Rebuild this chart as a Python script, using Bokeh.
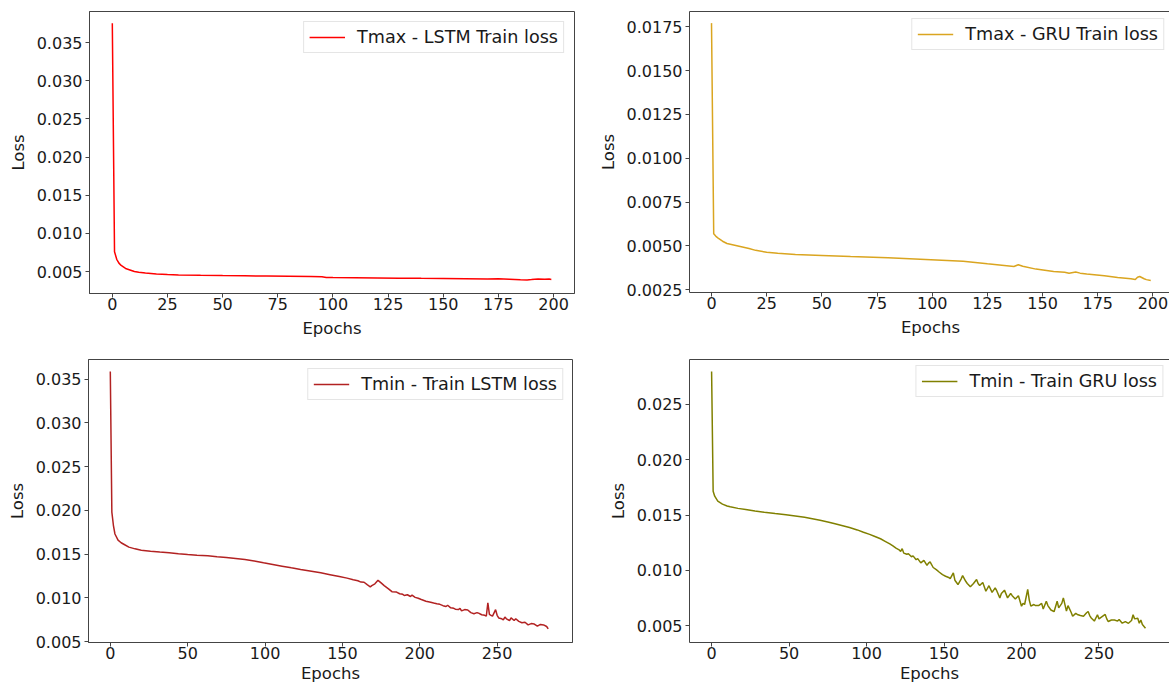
from bokeh.plotting import figure
from bokeh.models import (FixedTicker, PrintfTickFormatter, LinearAxis, Legend,
                          LegendItem, Range1d)
from bokeh.layouts import row, column
from bokeh.embed import file_html
from bokeh.resources import INLINE

# ---------------- data ----------------
tmax_lstm_epoch = [0, 1, 2, 3, 4, 5, 6, 8, 10, 12, 15, 20, 25, 30, 40, 50, 60, 70, 80, 90,
                   95, 97, 100, 110, 120, 130, 140, 150, 160, 170, 175, 180, 185, 188, 190,
                   193, 196, 198, 199]
tmax_lstm_loss = [0.03756, 0.0076, 0.0066, 0.0061, 0.0058, 0.0056, 0.0054, 0.0052, 0.0050,
                  0.0049, 0.00480, 0.00468, 0.00460, 0.00455, 0.00450, 0.00446, 0.00443,
                  0.00440, 0.00437, 0.00434, 0.00432, 0.00422, 0.00421, 0.00419, 0.00416,
                  0.00413, 0.00410, 0.00408, 0.00405, 0.00403, 0.00404, 0.00399, 0.00393,
                  0.00390, 0.00394, 0.00402, 0.00399, 0.00401, 0.00396]

tmax_gru_epoch = [0, 1, 2, 3, 5, 7, 10, 13, 17, 20, 25, 30, 38, 50, 63, 80, 97, 114, 125,
                  137, 139, 141, 147, 155, 160, 162, 165, 167, 170, 178, 184, 190, 192, 193,
                  194, 196, 197, 199]
tmax_gru_loss = [0.01771, 0.00569, 0.00555, 0.00545, 0.00527, 0.00514, 0.00506, 0.00497,
                 0.00485, 0.00475, 0.00464, 0.00458, 0.00451, 0.00446, 0.00440, 0.00433,
                 0.00423, 0.00413, 0.00398, 0.00383, 0.00393, 0.00384, 0.00368, 0.00354,
                 0.00350, 0.00344, 0.00351, 0.00345, 0.00340, 0.00330, 0.00320, 0.00313,
                 0.00309, 0.00322, 0.00326, 0.00313, 0.00308, 0.00303]

tmin_lstm_epoch = [0, 1, 2, 3, 5, 7, 9, 12, 16, 20, 26, 32, 38, 44, 50, 56, 63, 69, 75, 81,
                   87, 93, 99, 105, 111, 117, 123, 130, 136, 142, 148, 153, 157, 160, 162,
                   164, 166, 168, 169, 171, 173, 175, 177, 180, 182, 185, 187, 189, 190, 192,
                   194, 195, 197, 199, 201, 204, 207, 209, 211, 213, 215, 217, 218, 220, 222,
                   223, 225, 226, 227, 229, 231, 233, 235, 237, 238, 240, 242, 243, 244, 245,
                   246, 247, 249, 250, 251, 253, 254, 255, 256, 258, 259, 261, 262, 264, 266,
                   268, 270, 272, 274, 276, 278, 280, 282, 283]
tmin_lstm_loss = [0.03589, 0.0198, 0.0183, 0.0173, 0.0166, 0.0163, 0.0161, 0.0158, 0.0156,
                  0.01545, 0.01533, 0.01523, 0.01515, 0.01505, 0.01496, 0.01488, 0.01480,
                  0.01470, 0.01461, 0.01450, 0.01438, 0.01422, 0.01400, 0.01381, 0.01362,
                  0.01343, 0.01325, 0.01305, 0.01286, 0.01265, 0.01244, 0.01225, 0.01206,
                  0.01195, 0.01180, 0.01178, 0.01150, 0.01125, 0.01140, 0.01160, 0.01200,
                  0.01170, 0.01140, 0.01100, 0.01070, 0.01065, 0.01046, 0.01040, 0.01026,
                  0.01035, 0.01015, 0.01030, 0.01005, 0.00995, 0.00980, 0.00961, 0.00950,
                  0.00940, 0.00931, 0.00925, 0.00910, 0.00900, 0.00915, 0.00885, 0.00880,
                  0.00870, 0.00865, 0.00880, 0.00850, 0.00865, 0.00860, 0.00830, 0.00818,
                  0.00830, 0.00825, 0.00806, 0.00800, 0.00790, 0.00943, 0.00810, 0.00800,
                  0.00790, 0.00864, 0.00800, 0.00770, 0.00760, 0.00748, 0.00780, 0.00760,
                  0.00740, 0.00770, 0.00740, 0.00760, 0.00730, 0.00714, 0.00720, 0.00690,
                  0.00705, 0.00700, 0.00675, 0.00695, 0.00690, 0.00672, 0.00645]

tmin_gru_epoch = [0, 1, 2, 4, 7, 10, 12, 17, 22, 28, 34, 41, 48, 54, 60, 65, 70, 75, 79, 84,
                  89, 94, 98, 102, 105, 109, 112, 115, 117, 119, 121, 122, 123, 124, 126, 127,
                  129, 130, 132, 133, 135, 137, 139, 140, 141, 143, 145, 147, 149, 151, 153,
                  154, 156, 157, 159, 161, 162, 164, 165, 167, 169, 171, 172, 173, 175, 177,
                  179, 181, 183, 184, 186, 187, 189, 191, 193, 194, 196, 198, 200, 201, 202,
                  204, 205, 206, 208, 209, 211, 213, 214, 216, 217, 219, 221, 223, 224, 226,
                  227, 229, 230, 232, 233, 235, 236, 238, 240, 242, 243, 244, 245, 247, 249,
                  250, 252, 254, 255, 256, 258, 260, 262, 263, 265, 267, 269, 271, 272, 273,
                  275, 276, 277, 278, 280]
tmin_gru_loss = [0.02799, 0.01715, 0.0167, 0.01625, 0.01598, 0.01582, 0.01574, 0.01560,
                 0.01550, 0.01537, 0.01525, 0.01513, 0.01502, 0.01492, 0.01480, 0.01467,
                 0.01453, 0.01437, 0.01423, 0.01405, 0.01387, 0.01365, 0.01344, 0.01325,
                 0.01308, 0.01285, 0.01262, 0.01238, 0.01220, 0.01200, 0.01185, 0.01170,
                 0.01195, 0.01155, 0.01145, 0.01150, 0.01122, 0.01130, 0.01095, 0.01105,
                 0.01067, 0.01090, 0.01045, 0.01065, 0.01076, 0.01025, 0.01005, 0.00982,
                 0.00960, 0.00946, 0.00935, 0.00925, 0.00977, 0.00910, 0.00871, 0.00920,
                 0.00952, 0.00900, 0.00880, 0.00850, 0.00880, 0.00916, 0.00880, 0.00862,
                 0.00890, 0.00810, 0.00860, 0.00800, 0.00840, 0.00815, 0.00750, 0.00790,
                 0.00820, 0.00750, 0.00790, 0.00770, 0.00740, 0.00770, 0.00675, 0.00700,
                 0.00690, 0.00826, 0.00730, 0.00675, 0.00690, 0.00680, 0.00680, 0.00700,
                 0.00650, 0.00720, 0.00680, 0.00640, 0.00625, 0.00720, 0.00660, 0.00700,
                 0.00750, 0.00630, 0.00680, 0.00620, 0.00584, 0.00610, 0.00600, 0.00590,
                 0.00584, 0.00615, 0.00627, 0.00590, 0.00568, 0.00540, 0.00597, 0.00560,
                 0.00580, 0.00600, 0.00560, 0.00536, 0.00550, 0.00550, 0.00540, 0.00555,
                 0.00521, 0.00535, 0.00520, 0.00545, 0.00597, 0.00560, 0.00565, 0.00520,
                 0.00550, 0.00510, 0.00476]

top_xticks = [0, 25, 50, 75, 100, 125, 150, 175, 200]
bottom_xticks = [0, 50, 100, 150, 200, 250]
lstm_yticks = [0.005, 0.010, 0.015, 0.020, 0.025, 0.030, 0.035]
tmax_gru_yticks = [0.0025, 0.0050, 0.0075, 0.0100, 0.0125, 0.0150, 0.0175]
tmin_gru_yticks = [0.005, 0.010, 0.015, 0.020, 0.025]

FONT = "DejaVu Sans"
INK = "#1a1a1a"
SPINE = "#444444"


def make(ep, val, color, label, xr, yr, xticks, yticks, yfmt,
         lb, fw, rb, tb, fh, bb, open_right, lmargin, xlab_standoff):
    p = figure(frame_width=fw, frame_height=fh,
               min_border_left=lb, min_border_right=rb,
               min_border_top=tb, min_border_bottom=bb,
               x_range=Range1d(*xr), y_range=Range1d(*yr),
               output_backend="svg", toolbar_location=None, tools="")
    p.grid.visible = False
    p.background_fill_color = "white"
    p.border_fill_color = "white"
    r = p.line(ep, val, line_color=color, line_width=1.5)

    p.xaxis.ticker = FixedTicker(ticks=xticks)
    p.yaxis.ticker = FixedTicker(ticks=yticks)
    p.yaxis.formatter = PrintfTickFormatter(format=yfmt)
    p.xaxis.axis_label = "Epochs"
    p.yaxis.axis_label = "Loss"
    for ax in p.axis:
        ax.major_label_text_font = FONT
        ax.major_label_text_font_size = "16px"
        ax.major_label_text_color = INK
        ax.axis_label_text_font = FONT
        ax.axis_label_text_font_size = "16.5px"
        ax.axis_label_text_font_style = "normal"
        ax.axis_label_text_color = INK
        ax.major_tick_out = 4
        ax.major_tick_in = 0
        ax.minor_tick_line_color = None
        ax.major_tick_line_color = SPINE
        ax.axis_line_color = SPINE
    p.xaxis.major_label_standoff = 0
    p.xaxis.axis_label_standoff = xlab_standoff
    p.yaxis.major_label_standoff = 3
    p.yaxis.axis_label_standoff = 6

    if open_right:
        p.outline_line_color = None
        top = LinearAxis(ticker=FixedTicker(ticks=[]), major_label_text_font_size="0px",
                         major_tick_line_color=None, minor_tick_line_color=None,
                         axis_line_color=SPINE)
        p.add_layout(top, "above")
    else:
        p.outline_line_color = SPINE
        p.outline_line_width = 1

    leg = Legend(items=[LegendItem(label=label, renderers=[r])], location="top_right")
    leg.label_text_font = FONT
    leg.label_text_font_size = "17.6px"
    leg.label_text_color = INK
    leg.glyph_width = 36
    leg.glyph_height = 18
    leg.label_height = 18
    leg.label_standoff = 12
    leg.padding = 5
    leg.margin = lmargin
    leg.border_line_color = "#cccccc"
    leg.border_line_width = 1
    leg.background_fill_color = "white"
    leg.background_fill_alpha = 1.0
    p.add_layout(leg)
    return p


p1 = make(tmax_lstm_epoch, tmax_lstm_loss, "red", "Tmax - LSTM Train loss",
          (-10.34, 209.5), (0.002116, 0.03909), top_xticks, lstm_yticks, "%.3f",
          89, 485, 21, 11, 282, 50, False, 10, 6)
p2 = make(tmax_gru_epoch, tmax_gru_loss, "goldenrod", "Tmax - GRU Train loss",
          (-9.97, 208.4), (0.002346, 0.018373), top_xticks, tmax_gru_yticks, "%.4f",
          92, 482, 0, 11, 281, 51, True, 7, 6)
p3 = make(tmin_lstm_epoch, tmin_lstm_loss, "firebrick", "Tmin - Train LSTM loss",
          (-14.09, 298.7), (0.004886, 0.037265), bottom_xticks, lstm_yticks, "%.3f",
          88, 484, 23, 16, 283, 45, False, 9, 2)
p4 = make(tmin_gru_epoch, tmin_gru_loss, "olive", "Tmin - Train GRU loss",
          (-14.26, 295.5), (0.003462, 0.029072), bottom_xticks, tmin_gru_yticks, "%.3f",
          94, 480, 0, 12, 283, 49, True, 6, 2)

layout = column(row(p1, p2), row(p3, p4))
open("out.html", "w").write(file_html(layout, INLINE))
